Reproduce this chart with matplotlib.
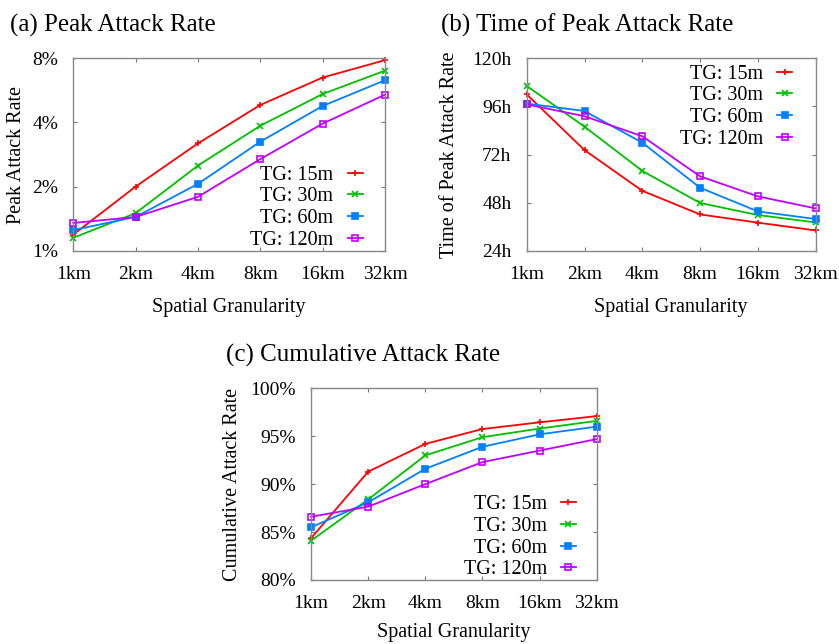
import matplotlib
matplotlib.use("Agg")
import matplotlib.pyplot as plt

plt.rcParams["font.family"] = ["Liberation Serif", "DejaVu Serif"]

granularity = ["1km", "2km", "4km", "8km", "16km", "32km"]
series_labels = ["TG: 15m", "TG: 30m", "TG: 60m", "TG: 120m"]
colors = ["#ff0000", "#00c000", "#0080ff", "#c000ff"]
markers = ["+", "x", "s", "s"]
fills = [True, True, True, False]

# (a) peak attack rate, percent
peak_15 = [1.19, 2.0, 3.19, 4.83, 6.5, 7.84]
peak_30 = [1.15, 1.50, 2.51, 3.86, 5.44, 7.0]
peak_60 = [1.25, 1.44, 2.06, 3.25, 4.78, 6.31]
peak_120 = [1.35, 1.44, 1.79, 2.69, 3.95, 5.40]

# (b) time of peak attack rate, hours
time_15 = [102.0, 74.2, 53.9, 42.1, 38.0, 34.1]
time_30 = [106.2, 85.9, 63.8, 47.8, 41.8, 38.1]
time_60 = [97.4, 93.7, 77.9, 55.4, 43.6, 39.8]
time_120 = [97.0, 91.1, 81.1, 61.1, 51.1, 45.1]

# (c) cumulative attack rate, percent
cum_15 = [84.35, 91.3, 94.2, 95.75, 96.45, 97.1]
cum_30 = [84.1, 88.4, 93.0, 94.9, 95.8, 96.6]
cum_60 = [85.5, 88.1, 91.6, 93.9, 95.2, 96.0]
cum_120 = [86.6, 87.65, 90.0, 92.3, 93.5, 94.7]

W, H = 839, 644
fig = plt.figure(figsize=(W / 100, H / 100), dpi=100)


def make_axes(x0, y0, x1, y1):
    return fig.add_axes([x0 / W, 1 - y1 / H, (x1 - x0) / W, (y1 - y0) / H])


def style_axes(ax, ylabel, ylabel_x, title, title_x, xpad=11):
    ax.set_xlim(0, len(granularity) - 1)
    ax.set_xticks(list(range(len(granularity))))
    ax.set_xticklabels(granularity)
    ax.tick_params(direction="in", length=3, width=0.8, color="#777777",
                   top=True, right=True, labelsize=14, pad=11)
    ax.tick_params(axis="y", pad=11)
    for s in ax.spines.values():
        s.set_color("#888888")
        s.set_linewidth(1.0)
    ax.set_xlabel("Spatial Granularity", fontsize=14.5, labelpad=xpad)
    ax.set_ylabel(ylabel, fontsize=14.5)
    ax.yaxis.set_label_coords(ylabel_x, 0.5)
    pos = ax.get_position()
    fig.text(title_x / W, pos.y1 + 33 / H, title, fontsize=18, va="center", ha="left")


def draw_series(ax, data, loc, anchor):
    for vals, lab, c, m, f in zip(data, series_labels, colors, markers, fills):
        ax.plot(range(len(vals)), vals, color=c, lw=1.3, marker=m,
                markersize=5 if m != "s" else 4, markeredgewidth=1.2,
                markerfacecolor=c if f else "none", markeredgecolor=c,
                label=lab, clip_on=False)
    ax.legend(loc=loc, bbox_to_anchor=anchor, frameon=False, markerfirst=False,
              alignment="right", fontsize=14.5, handlelength=0.75, handletextpad=0.7,
              labelspacing=0.13, borderaxespad=0.2)


# (a)
ax_a = make_axes(73.3, 58.3, 385, 250.7)
draw_series(ax_a, [peak_15, peak_30, peak_60, peak_120], "lower right", (0.967, -0.058))
ax_a.set_yscale("log", base=2)
ax_a.set_ylim(1, 8)
ax_a.set_yticks([1, 2, 4, 8])
ax_a.set_yticklabels(["1%", "2%", "4%", "8%"])
ax_a.minorticks_off()
style_axes(ax_a, "Peak Attack Rate", -0.152, "(a) Peak Attack Rate", 10)

# (b)
ax_b = make_axes(526.7, 58.3, 815.7, 250.7)
draw_series(ax_b, [time_15, time_30, time_60, time_120], "upper right", (0.96, 1.03))
ax_b.set_ylim(24, 120)
ax_b.set_yticks([24, 48, 72, 96, 120])
ax_b.set_yticklabels(["24h", "48h", "72h", "96h", "120h"])
style_axes(ax_b, "Time of Peak Attack Rate", -0.234, "(b) Time of Peak Attack Rate", 441)

# (c)
ax_c = make_axes(311, 388.3, 596.7, 580)
draw_series(ax_c, [cum_15, cum_30, cum_60, cum_120], "lower right", (0.97, -0.06))
ax_c.set_ylim(80, 100)
ax_c.set_yticks([80, 85, 90, 95, 100])
ax_c.set_yticklabels(["80%", "85%", "90%", "95%", "100%"])
style_axes(ax_c, "Cumulative Attack Rate", -0.2415, "(c) Cumulative Attack Rate", 226, xpad=8)

fig.savefig("out.png", dpi=100)
